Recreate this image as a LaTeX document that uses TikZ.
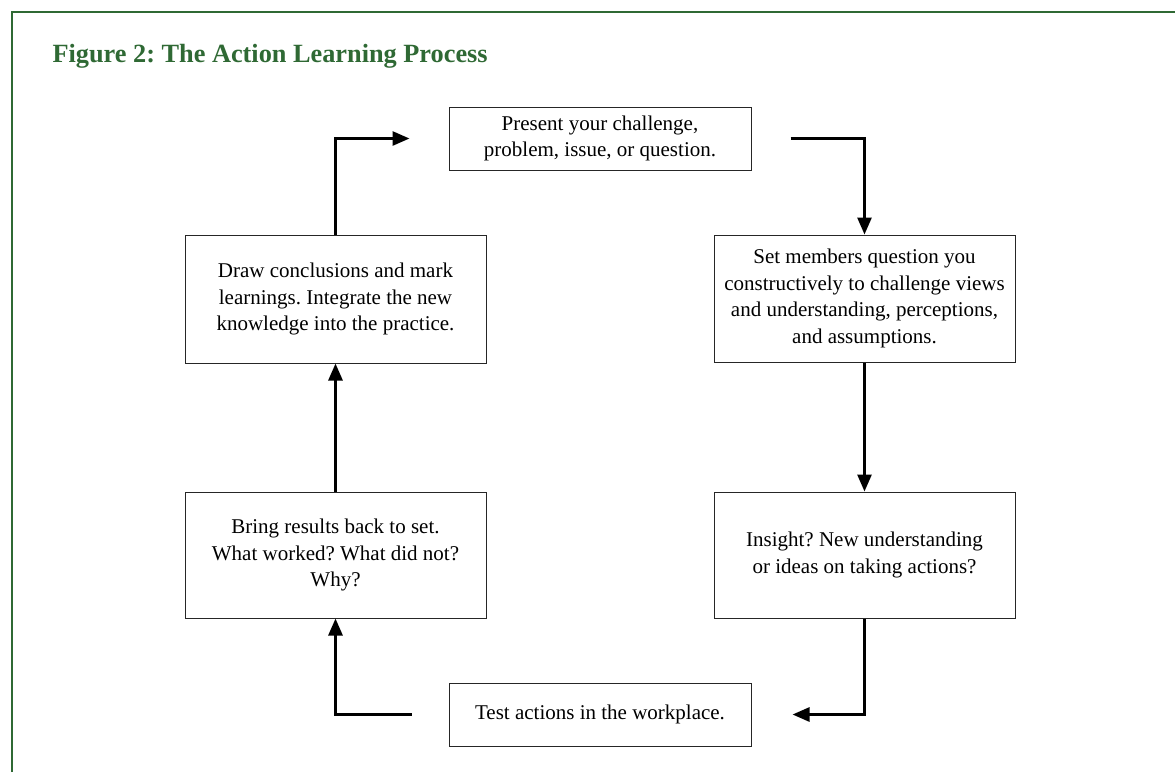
\documentclass[tikz,border=0pt]{standalone}
\usepackage{fontspec}
\setmainfont{Liberation Serif}
\usetikzlibrary{arrows.meta}
\definecolor{framegreen}{RGB}{47,105,52}
\frenchspacing
\tikzset{
	stage/.style={draw=black!85, line width=1pt, align=center, inner sep=0pt,
		font=\fontsize{21}{26.5}\selectfont},
	flow/.style={line width=2.8pt, -{Triangle[length=17pt,width=14pt]}}
}

\begin{document}
\begin{tikzpicture}[x=1pt,y=-1pt]
		%%%%% START %%%%%
		\useasboundingbox (0, 0) rectangle (1175, 772);
		\draw[framegreen, line width=1.5pt] (12, 772) -- (12, 12) -- (1175, 12);
		\node[anchor=base west, text=framegreen, font=\fontsize{26.3}{30}\selectfont\bfseries] (title) at (49, 62) {Figure 2: The Action Learning Process};
		
		\node[stage, minimum width=302pt, minimum height=63pt] (present) at (600, 138.5) {Present your challenge,\\problem, issue, or question.};
		\node[stage, minimum width=301pt, minimum height=127pt] (setm) at (864.5, 298.5) {Set members question you\\constructively to challenge views\\and understanding, perceptions,\\and assumptions.};
		\node[stage, minimum width=301pt, minimum height=126pt] (insight) at (864.5, 555) {Insight? New understanding\\or ideas on taking actions?};
		\node[stage, minimum width=302pt, minimum height=63pt] (test) at (600, 714.5) {Test actions in the workplace.};
		\node[stage, minimum width=301pt, minimum height=126pt] (bring) at (335.5, 555) {Bring results back to set.\\What worked? What did not?\\Why?};
		\node[stage, minimum width=301pt, minimum height=128pt] (drawc) at (335.5, 299) {Draw conclusions and mark\\learnings. Integrate the new\\knowledge into the practice.};
		
		\draw[flow, shorten <=39pt] (present.east) -| (setm.north);
		\draw[flow] (setm.south) -- (insight.north);
		\draw[flow, shorten >=41pt] (insight.south) |- (test.east);
		\draw[flow, shorten <=37pt] (test.west) -| (bring.south);
		\draw[flow] (bring.north) -- (drawc.south);
		\draw[flow, shorten >=39pt] (drawc.north) |- (present.west);
		%%%%% END %%%%%
\end{tikzpicture}
\end{document}
